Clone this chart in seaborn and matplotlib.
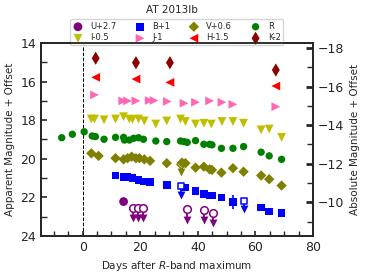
import matplotlib
matplotlib.use("Agg")
import matplotlib.pyplot as plt
import seaborn as sns
import numpy as np
import pandas as pd

sns.set_style("ticks")
plt.rcParams['font.family'] = ['DejaVu Sans']

# ---- data (days after R max, apparent magnitude + offset) ----
U_day = [14.2]
U_mag = [22.22]
U_lim_day = [17.3, 19.3, 21.1, 36.1, 42.1, 45.2]
U_lim_mag = [22.53, 22.53, 22.53, 22.60, 22.65, 22.79]

B_day = [11.4, 14.2, 15.6, 17.3, 19.4, 21.1, 23.4, 29.2, 35.7, 39.2, 42.1, 44.1, 44.9, 48.2, 52.2, 62.0, 64.8, 69.1]
B_mag = [20.87, 20.96, 20.96, 21.01, 21.10, 21.18, 21.22, 21.36, 21.50, 21.67, 21.82, 21.91, 21.91, 22.00, 22.25, 22.53, 22.74, 22.82]
B_err_day = [52.2]
B_err_mag = [22.25]
B_err = [0.35]
B_lim_day = [34.0, 55.9]
B_lim_mag = [21.41, 22.17]

V_day = [3.0, 5.5, 11.4, 14.2, 15.6, 17.0, 18.5, 19.7, 21.4, 23.4, 29.2, 34.5, 35.7, 39.2, 42.1, 44.1, 44.9, 48.2, 52.2, 55.9, 62.0, 64.8, 69.1]
V_mag = [19.72, 19.85, 19.97, 20.03, 19.97, 19.89, 19.97, 19.97, 20.03, 20.11, 20.23, 20.20, 20.23, 20.46, 20.41, 20.55, 20.58, 20.72, 20.49, 20.67, 20.87, 21.06, 21.39]
V_lim_day = [34.0]
V_lim_mag = [20.25]

R_day = [-7.3, -3.6, 0.5, 3.3, 4.4, 7.4, 11.4, 14.2, 14.5, 16.2, 17.7, 19.4, 21.1, 25.4, 29.2, 34.0, 35.2, 36.3, 39.2, 42.1, 44.1, 44.9, 48.2, 52.2, 55.9, 62.0, 64.8, 69.1]
R_mag = [18.91, 18.73, 18.60, 18.82, 18.85, 18.99, 18.89, 18.89, 19.03, 19.03, 18.94, 18.91, 18.99, 19.08, 19.11, 19.08, 19.11, 19.15, 19.06, 19.25, 19.25, 19.28, 19.46, 19.46, 19.37, 19.66, 19.85, 20.03]

I_day = [3.0, 4.1, 7.4, 11.4, 14.2, 16.2, 17.3, 19.4, 21.4, 25.4, 29.2, 34.0, 35.7, 39.2, 42.1, 44.7, 48.4, 52.2, 55.9, 62.0, 64.8, 69.1]
I_mag = [17.94, 17.94, 17.98, 17.94, 17.82, 17.94, 17.96, 17.94, 18.04, 18.20, 18.04, 17.94, 18.07, 18.20, 18.16, 18.20, 18.07, 18.07, 18.16, 18.50, 18.46, 18.89]

J_day = [4.1, 13.9, 15.6, 18.5, 23.1, 24.8, 29.4, 35.2, 39.2, 44.1, 48.4, 52.2, 67.1]
J_mag = [16.69, 17.00, 17.00, 17.00, 16.98, 16.98, 17.03, 17.12, 17.07, 17.00, 17.07, 17.18, 17.30]

H_day = [4.5, 18.5, 30.3, 67.1]
H_mag = [15.78, 15.87, 16.04, 16.23]

K_day = [4.5, 18.5, 30.3, 67.1]
K_mag = [14.79, 15.02, 15.02, 15.40]

labels = ["U+2.7", "B+1", "V+0.6", "R", "I-0.5", "J-1", "H-1.5", "K-2"]
title = "AT 2013lb"
dist_mod = 32.26

# ---- figure ----
fig = plt.figure(figsize=(3.66, 2.74), dpi=100)
ax = fig.add_axes([0.112, 0.139, 0.743, 0.704])

style = {
    "U+2.7": dict(color="purple", marker="o", s=40),
    "B+1": dict(color="blue", marker="s", s=30),
    "V+0.6": dict(color="olive", marker="D", s=28),
    "R": dict(color="green", marker="o", s=28),
    "I-0.5": dict(color="y", marker="v", s=40),
    "J-1": dict(color="hotpink", marker=">", s=40),
    "H-1.5": dict(color="red", marker="<", s=40),
    "K-2": dict(color="darkred", marker="d", s=45),
}
series = {
    "U+2.7": (U_day, U_mag), "B+1": (B_day, B_mag), "V+0.6": (V_day, V_mag),
    "R": (R_day, R_mag), "I-0.5": (I_day, I_mag), "J-1": (J_day, J_mag),
    "H-1.5": (H_day, H_mag), "K-2": (K_day, K_mag),
}
for lab in labels:
    d, m = series[lab]
    st = style[lab]
    sns.scatterplot(x=d, y=m, ax=ax, color=st["color"], marker=st["marker"],
                    s=st["s"], edgecolor="none", linewidth=0, label=lab, zorder=3)

# upper limits: open marker + downward arrow
def uplim(days, mags, lab, length=0.5, open_z=4):
    st = style[lab]
    days = np.asarray(days); mags = np.asarray(mags)
    ax.vlines(days, mags, mags + length, color=st["color"], lw=1.3, zorder=2)
    ax.scatter(days, mags + length, marker="v", color=st["color"], s=32, zorder=3, linewidths=0)
    ax.scatter(days, mags, marker=st["marker"], facecolors="white", edgecolors=st["color"],
               s=st["s"] * 0.75, linewidths=1.1, zorder=open_z)

uplim(U_lim_day, U_lim_mag, "U+2.7", 0.55)
uplim(B_lim_day, B_lim_mag, "B+1", 0.45)
uplim(V_lim_day, V_lim_mag, "V+0.6", 0.45, open_z=2.5)
ax.errorbar(B_err_day, B_err_mag, yerr=B_err, fmt="none", ecolor="blue", elinewidth=1.2, zorder=2)

ax.axvline(0, color="black", ls="--", lw=0.7, zorder=1)

ax.set_xlim(-14.5, 80)
ax.set_ylim(24, 14)
ax.set_xticks([0, 20, 40, 60, 80])
ax.set_xticks(np.arange(-10, 80, 5), minor=True)
ax.set_yticks([14, 16, 18, 20, 22, 24])
ax.set_yticks([15, 17, 19, 21, 23], minor=True)
ax.tick_params(axis="both", which="major", direction="in", labelsize=9, length=4, width=1.2)
ax.tick_params(axis="both", which="minor", direction="in", length=4, width=1.0)
ax.tick_params(axis="x", which="both", length=3.5)
for sp in ax.spines.values():
    sp.set_linewidth(1.3)
ax.set_xlabel("Days after $R$-band maximum", fontsize=7.5)
ax.set_ylabel("Apparent Magnitude + Offset", fontsize=7.5)

ax2 = ax.twinx()
ax2.set_ylim(24 - dist_mod, 14 - dist_mod)
ax2.set_yticks([-18, -16, -14, -12, -10])
ax2.set_yticks([-17, -15, -13, -11, -9], minor=True)
ax2.tick_params(axis="y", which="major", direction="in", labelsize=9, length=5, width=2)
ax2.tick_params(axis="y", which="minor", direction="in", length=4, width=1.0)
ax2.set_ylabel("Absolute Magnitude + Offset", fontsize=7.5)
for sp in ax2.spines.values():
    sp.set_linewidth(1.3)

h, l = ax.get_legend_handles_labels()
hd = dict(zip(l, h))
order = ["U+2.7", "I-0.5", "B+1", "J-1", "V+0.6", "H-1.5", "R", "K-2"]
ax.legend([hd[o] for o in order], order, ncol=4, fontsize=6, loc="lower center",
          bbox_to_anchor=(0.5, 0.99), frameon=True, borderaxespad=0.0,
          handlelength=1.2, handletextpad=0.9, columnspacing=2.2,
          labelspacing=0.3, borderpad=0.3)
fig.text(0.47, 0.965, title, ha="center", va="center", fontsize=7.5)

fig.savefig("out.png", dpi=100)
